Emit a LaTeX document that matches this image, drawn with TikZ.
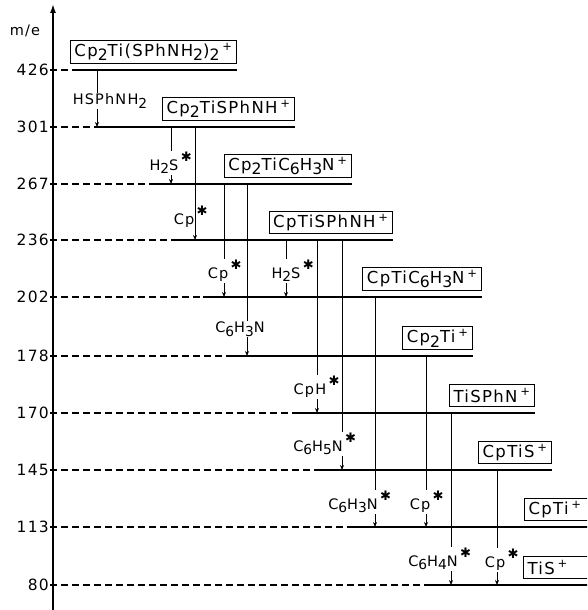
\documentclass[tikz,border=0pt]{standalone}
\usepackage{fontspec}
\usepackage{graphicx}
\setmainfont[LetterSpace=8]{DejaVu Sans}
\usetikzlibrary{arrows.meta}
% stencil lettering: lowered, nearly full size indices
\newcommand{\lo}[1]{\raisebox{-0.45ex}{\scalebox{0.95}{#1}}}
\newcommand{\hi}{\,\textsuperscript{+}}
\newcommand{\st}{\rlap{\raisebox{1.1ex}{\,\scalebox{0.9}{✱}}}}

\begin{document}
\begin{tikzpicture}[x=1pt,y=-1pt,
    lev/.style={line width=1.5pt},
    levdash/.style={line width=1.1pt,dash pattern=on 7pt off 4pt},
    trans/.style={line width=0.8pt,-{Stealth[length=5pt,width=4pt]}},
    lab/.style={fill=white,inner sep=1pt,font=\fontsize{14.5}{14.5}\selectfont},
    ion/.style={draw,line width=1pt,inner ysep=2.5pt,inner xsep=4pt,minimum height=22pt,font=\fontsize{16.5}{16.5}\selectfont},
    tick/.style={anchor=east,inner sep=1pt,font=\fontsize{15.5}{15.5}\selectfont}]

\useasboundingbox (0,0) rectangle (587,610);
\clip (0,0) rectangle (587,610);

% axis
\coordinate (bot) at (53,612);
\coordinate (top) at (53,4);
\draw[line width=1.6pt,-{Latex[length=9pt,width=6pt]}] (bot) -- (top);
\node[font=\fontsize{14.5}{14.5}\selectfont] (me) at (25,31) {m/e};

% levels: mass / y / start of solid part / end / anchor of ion box / x of box / extra room
\foreach \m/\y/\xs/\xe/\an/\bx/\w/\ion in {
    426/70/72/237/south east/237/0/{Cp\lo{2}Ti(SPhNH\lo{2})\lo{2}\hi},
    301/127/97/295/south east/295/0/{Cp\lo{2}TiSPhNH\hi},
    267/184/153/352/south east/352/0/{Cp\lo{2}TiC\lo{6}H\lo{3}N\hi},
    236/240/173/393/south east/393/0/{CpTiSPhNH\hi},
    202/297/203/482/south east/482/0/{CpTiC\lo{6}H\lo{3}N\hi},
    178/356/227/473/south east/473/0/{Cp\lo{2}Ti\hi},
    170/413/295/535/south east/535/0/{TiSPhN\hi},
    145/470/318/552/south east/552/0/{CpTiS\hi},
    113/527/353/600/south west/524/20/{CpTi\hi},
    80/585/427/600/south west/523/30/{TiS\hi}}
{
    \node[tick] (t\m) at (50,\y) {\m};
    \coordinate (s\m) at (\xs,\y);
    \coordinate (e\m) at (\xe,\y);
    \draw[levdash] (t\m.east) -- (s\m);
    \draw[lev] (s\m) -- (e\m);
    \node[ion,anchor=\an] (i\m) at (\bx,\y-6) {\ion\hspace*{\w pt}};
}

% fragmentations: x / from / to / label / label position
\foreach \x/\a/\b/\t/\lx/\ly in {
    97/426/301/{HSPhNH\lo{2}}/110/101,
    171/301/267/{H\lo{2}S\st}/164/163,
    195/301/236/{Cp\st}/184/217,
    224/267/202/{Cp\st}/218/271,
    247/267/178/{C\lo{6}H\lo{3}N}/240/329,
    286/236/202/{H\lo{2}S\st}/286/271,
    317/236/170/{CpH\st}/310/387,
    342/236/145/{C\lo{6}H\lo{5}N\st}/318/444,
    375/202/113/{C\lo{6}H\lo{3}N\st}/353/502,
    426/178/113/{Cp\st}/420/502,
    451/170/80/{C\lo{6}H\lo{4}N\st}/433/559,
    497/145/80/{Cp\st}/495/560}
{
    \draw[trans] (\x,0 |- s\a) -- (\x,0 |- s\b);
    \node[lab] (f\a-\b) at (\lx,\ly) {\t};
}
\end{tikzpicture}
\end{document}
